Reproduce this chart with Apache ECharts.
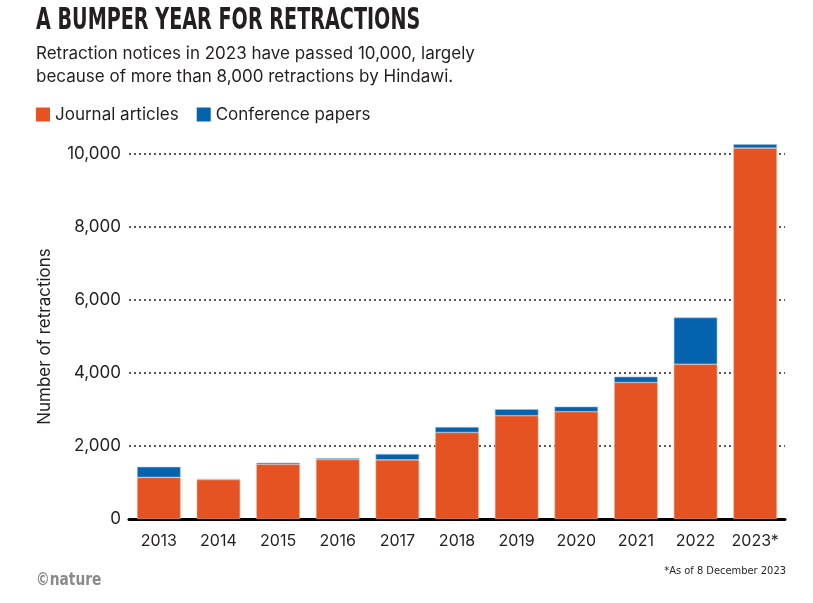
<!DOCTYPE html>
<html lang="en">
<head>
    <meta charset="UTF-8">
    <title>A bumper year for retractions</title>
    <style>
        html, body { margin: 0; padding: 0; background: #fff; }
        #main { width: 813px; height: 603px; }
    </style>
</head>
<body>
    <div id="main"></div>
    <script src="https://cdn.jsdelivr.net/npm/echarts@6/dist/echarts.min.js"></script>
    <script>
        // data
        var years = ['2013', '2014', '2015', '2016', '2017', '2018', '2019', '2020', '2021', '2022', '2023*'];
        var journal = [1140, 1080, 1500, 1630, 1620, 2370, 2830, 2940, 3740, 4240, 10160];
        var conference = [290, 15, 40, 35, 160, 150, 180, 140, 160, 1280, 110];
        var yTicks = [0, 2000, 4000, 6000, 8000, 10000];

        var orange = '#e55322';
        var blue = '#0563ad';
        var ink = '#231f20';

        var chart = echarts.init(document.getElementById('main'));
        chart.setOption({
            animation: false,
            title: [
                {
                    text: 'Retraction notices in 2023 have passed 10,000, largely\nbecause of more than 8,000 retractions by Hindawi.',
                    left: 36, top: 42, padding: 0,
                    textStyle: { fontFamily: 'Inter', fontWeight: 'normal', fontSize: 17, lineHeight: 23, color: ink }
                }
            ],
            // condensed headline and footers, squeezed to the original widths
            graphic: [
                {
                    type: 'text', left: 36, top: 6, scaleX: 0.71,
                    style: { text: 'A BUMPER YEAR FOR RETRACTIONS', font: 'bold 30px "DejaVu Sans Condensed"', fill: ink }
                },
                {
                    type: 'text', right: 27, top: 566,
                    style: { text: '*As of 8 December 2023', font: '11px "DejaVu Sans Condensed"', fill: ink }
                },
                {
                    type: 'text', left: 36, top: 571, scaleX: 0.85,
                    style: { text: '©nature', font: 'bold 18px "DejaVu Sans Condensed"', fill: '#8a8a8a' }
                }
            ],
            legend: {
                left: 36, top: 106, padding: 0,
                icon: 'rect',
                itemWidth: 14, itemHeight: 14,
                itemGap: 18,
                itemStyle: { borderWidth: 0 },
                textStyle: { fontFamily: 'Inter', fontSize: 17, color: ink },
                data: ['Journal articles', 'Conference papers']
            },
            grid: { left: 129, right: 28, top: 154, bottom: 84 },
            xAxis: {
                type: 'category',
                data: years,
                axisLine: { lineStyle: { color: '#000', width: 3 } },
                axisTick: { alignWithLabel: true, length: 8, lineStyle: { color: '#999', width: 1 } },
                axisLabel: { interval: 0, fontFamily: 'Inter', fontSize: 16, color: ink, margin: 14 }
            },
            yAxis: {
                type: 'value',
                min: yTicks[0], max: yTicks[yTicks.length - 1], interval: 2000,
                name: 'Number of retractions',
                nameLocation: 'middle',
                nameGap: 76,
                nameTextStyle: { fontFamily: 'Inter', fontSize: 17, color: ink },
                axisLine: { show: false },
                axisTick: { show: false },
                axisLabel: {
                    fontFamily: 'Inter', fontSize: 17, color: ink, margin: 8,
                    formatter: function (v) { return v.toLocaleString('en-US'); }
                },
                splitLine: { lineStyle: { type: [2, 3], color: '#222', width: 1.5 } }
            },
            series: [
                {
                    name: 'Journal articles',
                    type: 'bar',
                    stack: 'all',
                    clip: false,
                    barWidth: '73%',
                    itemStyle: { color: orange, borderColor: '#f2a88a', borderWidth: 0.6 },
                    data: journal
                },
                {
                    name: 'Conference papers',
                    type: 'bar',
                    stack: 'all',
                    clip: false,
                    barWidth: '73%',
                    itemStyle: { color: blue, borderColor: '#9cc3e4', borderWidth: 0.6 },
                    data: conference
                }
            ]
        });
    </script>
</body>
</html>
